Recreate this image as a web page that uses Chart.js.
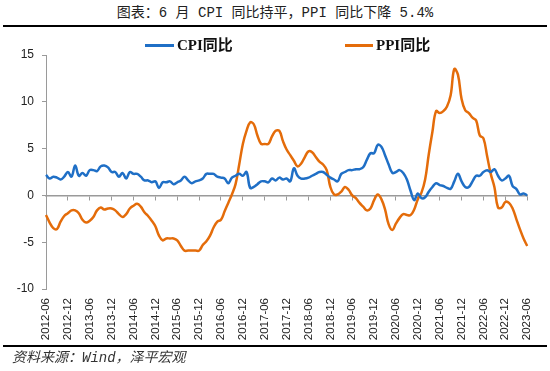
<!DOCTYPE html>
<html><head><meta charset="utf-8">
<script src="https://cdn.jsdelivr.net/npm/chart.js@4"></script>
<style>
html,body{margin:0;padding:0;background:#fff;}
#wrap{position:relative;width:550px;height:371px;overflow:hidden;background:#fff;}
#title{position:absolute;top:4px;left:0;width:550px;text-align:center;font-size:14px;font-family:"Liberation Mono","Noto Sans CJK SC";color:#222;line-height:18px;white-space:pre;}
.rule{position:absolute;left:3px;width:544px;height:2px;background:#000;}
#box{position:absolute;left:0;top:30px;width:550px;height:316px;}
.lgl{position:absolute;height:3px;top:44px;}
.lgt{position:absolute;top:36px;line-height:18px;font-size:15px;font-weight:bold;font-family:"Liberation Serif","Noto Sans CJK SC";color:#111;white-space:pre;}
#src{position:absolute;left:12px;top:349px;font-size:14px;line-height:18px;font-style:italic;font-family:"Liberation Mono","Noto Sans CJK SC";color:#333;white-space:pre;}
</style></head>
<body>
<div id="wrap">
<div id="title">图表：6 月 CPI 同比持平，PPI 同比下降 5.4%</div>
<div class="rule" style="top:25px"></div>
<div id="box"><canvas id="c" width="550" height="316"></canvas></div>
<div class="lgl" id="l1" style="left:145px;width:29px;"></div>
<div class="lgt" id="t1" style="left:177px;"></div>
<div class="lgl" id="l2" style="left:345px;width:28px;"></div>
<div class="lgt" id="t2" style="left:376px;"></div>
<div class="rule" style="top:345px"></div>
<div id="src">资料来源：Wind，泽平宏观</div>
</div>
<script>
// Categories: monthly, 2012-06 .. 2023-06
const startYear = 2012, startMonth = 6, monthCount = 133;
const months = [];
for (let i = 0; i < monthCount; i++) {
  const m = startMonth - 1 + i;
  const y = startYear + Math.floor(m / 12);
  const mm = (m % 12) + 1;
  months.push(y + '-' + (mm < 10 ? '0' + mm : '' + mm));
}
const labelEvery = 6;
const seriesNames = ['CPI同比', 'PPI同比'];
const seriesColors = ['#1F6FC6', '#E46C0A'];

const cpi = [
  2.2,1.8,2.0,1.9,1.7,2.0,2.5,
  2.0,3.2,2.1,2.4,2.1,2.7,2.7,2.6,3.1,3.2,3.0,2.5,
  2.5,2.0,2.4,1.8,2.5,2.3,2.3,2.0,1.6,1.6,1.4,1.5,
  0.8,1.4,1.4,1.5,1.2,1.4,1.6,2.0,1.6,1.3,1.5,1.6,
  1.8,2.3,2.3,2.3,2.0,1.9,1.8,1.3,1.9,2.1,2.3,2.1,
  2.5,0.8,0.9,1.2,1.5,1.5,1.4,1.8,1.6,1.9,1.7,1.8,
  1.5,2.9,2.1,1.8,1.8,1.9,2.1,2.3,2.5,2.5,2.2,1.9,
  1.7,1.5,2.3,2.5,2.7,2.7,2.8,2.8,3.0,3.8,4.5,4.5,
  5.4,5.2,4.3,3.3,2.4,2.5,2.7,2.4,1.7,0.5,-0.5,0.2,
  -0.3,-0.2,0.4,0.9,1.3,1.1,1.0,0.8,0.7,1.5,2.3,1.5,
  0.9,0.9,1.5,2.1,2.1,2.5,2.7,2.5,2.8,2.1,1.6,1.8,
  2.1,1.0,0.7,0.1,0.2,0.0
];
const ppi = [
  -2.1,-2.9,-3.5,-3.6,-2.8,-2.2,-1.9,
  -1.6,-1.6,-1.9,-2.6,-2.9,-2.7,-2.3,-1.6,-1.3,-1.5,-1.4,-1.4,
  -1.6,-2.0,-2.3,-2.0,-1.4,-1.1,-0.9,-1.2,-1.8,-2.2,-2.7,-3.3,
  -4.3,-4.8,-4.6,-4.6,-4.6,-4.8,-5.4,-5.9,-5.9,-5.9,-5.9,-5.9,
  -5.3,-4.9,-4.3,-3.4,-2.8,-2.6,-1.7,-0.8,0.1,1.2,3.3,5.5,
  6.9,7.8,7.6,6.4,5.5,5.5,5.5,6.3,6.9,6.9,5.8,4.9,
  4.3,3.7,3.1,3.4,4.1,4.7,4.6,4.1,3.6,3.3,2.7,0.9,
  0.1,0.1,0.4,0.9,0.6,0.0,-0.3,-0.8,-1.2,-1.6,-1.4,-0.5,
  0.1,-0.4,-1.5,-3.1,-3.7,-3.0,-2.4,-2.0,-2.1,-2.1,-1.5,-0.4,
  0.3,1.7,4.4,6.8,9.0,8.8,9.0,9.5,10.7,13.5,12.9,10.3,
  9.1,8.8,8.3,8.0,6.4,6.1,4.2,2.3,0.9,-1.3,-1.3,-0.7,
  -0.8,-1.4,-2.5,-3.6,-4.6,-5.4
];
const yTicks = [-10, -5, 0, 5, 10, 15];

document.getElementById('l1').style.background = seriesColors[0];
document.getElementById('l2').style.background = seriesColors[1];
document.getElementById('t1').textContent = seriesNames[0];
document.getElementById('t2').textContent = seriesNames[1];

const axisGray = '#9a9a9a';
new Chart(document.getElementById('c'), {
  type: 'line',
  data: {
    labels: months,
    datasets: [
      {label: seriesNames[0], data: cpi, borderColor: seriesColors[0], backgroundColor: seriesColors[0], borderWidth: 2.5, pointRadius: 0, tension: 0.4, xAxisID: 'x'},
      {label: seriesNames[1], data: ppi, borderColor: seriesColors[1], backgroundColor: seriesColors[1], borderWidth: 2.5, pointRadius: 0, tension: 0.4, xAxisID: 'x'}
    ]
  },
  options: {
    responsive: false,
    animation: false,
    events: [],
    layout: {padding: {top: 25, right: 17, left: 0, bottom: 0}},
    plugins: {legend: {display: false}, tooltip: {enabled: false}, title: {display: false}},
    scales: {
      x: {
        type: 'category',
        position: 'bottom',
        offset: false,
        grid: {display: false, drawTicks: false},
        border: {display: false},
        ticks: {
          autoSkip: false, maxRotation: 90, minRotation: 90, padding: 9,
          font: {family: 'Liberation Sans', size: 11.5}, color: '#222',
          callback: function(v, i) { return i % labelEvery === 0 ? months[i] : ''; }
        },
        afterFit: function(s) { s.height = 57; }
      },
      x2: {
        type: 'category',
        position: {y: 0},
        offset: false,
        grid: {
          drawOnChartArea: false, drawTicks: true, tickLength: 4, lineWidth: 1,
          color: function(ctx) { return ctx.index % labelEvery === 0 ? axisGray : 'rgba(0,0,0,0)'; }
        },
        border: {display: true, color: axisGray, width: 1.5},
        ticks: {display: false, autoSkip: false}
      },
      y: {
        min: -10, max: 15,
        afterBuildTicks: function(s) { s.ticks = yTicks.map(function(v){ return {value: v}; }); },
        grid: {drawOnChartArea: false, drawTicks: true, tickLength: 4, color: axisGray},
        border: {display: true, color: axisGray, width: 1},
        ticks: {padding: 8, font: {family: 'Liberation Sans', size: 12}, color: '#222'},
        afterFit: function(s) { s.width = 46; }
      }
    }
  }
});
</script>
</body></html>
